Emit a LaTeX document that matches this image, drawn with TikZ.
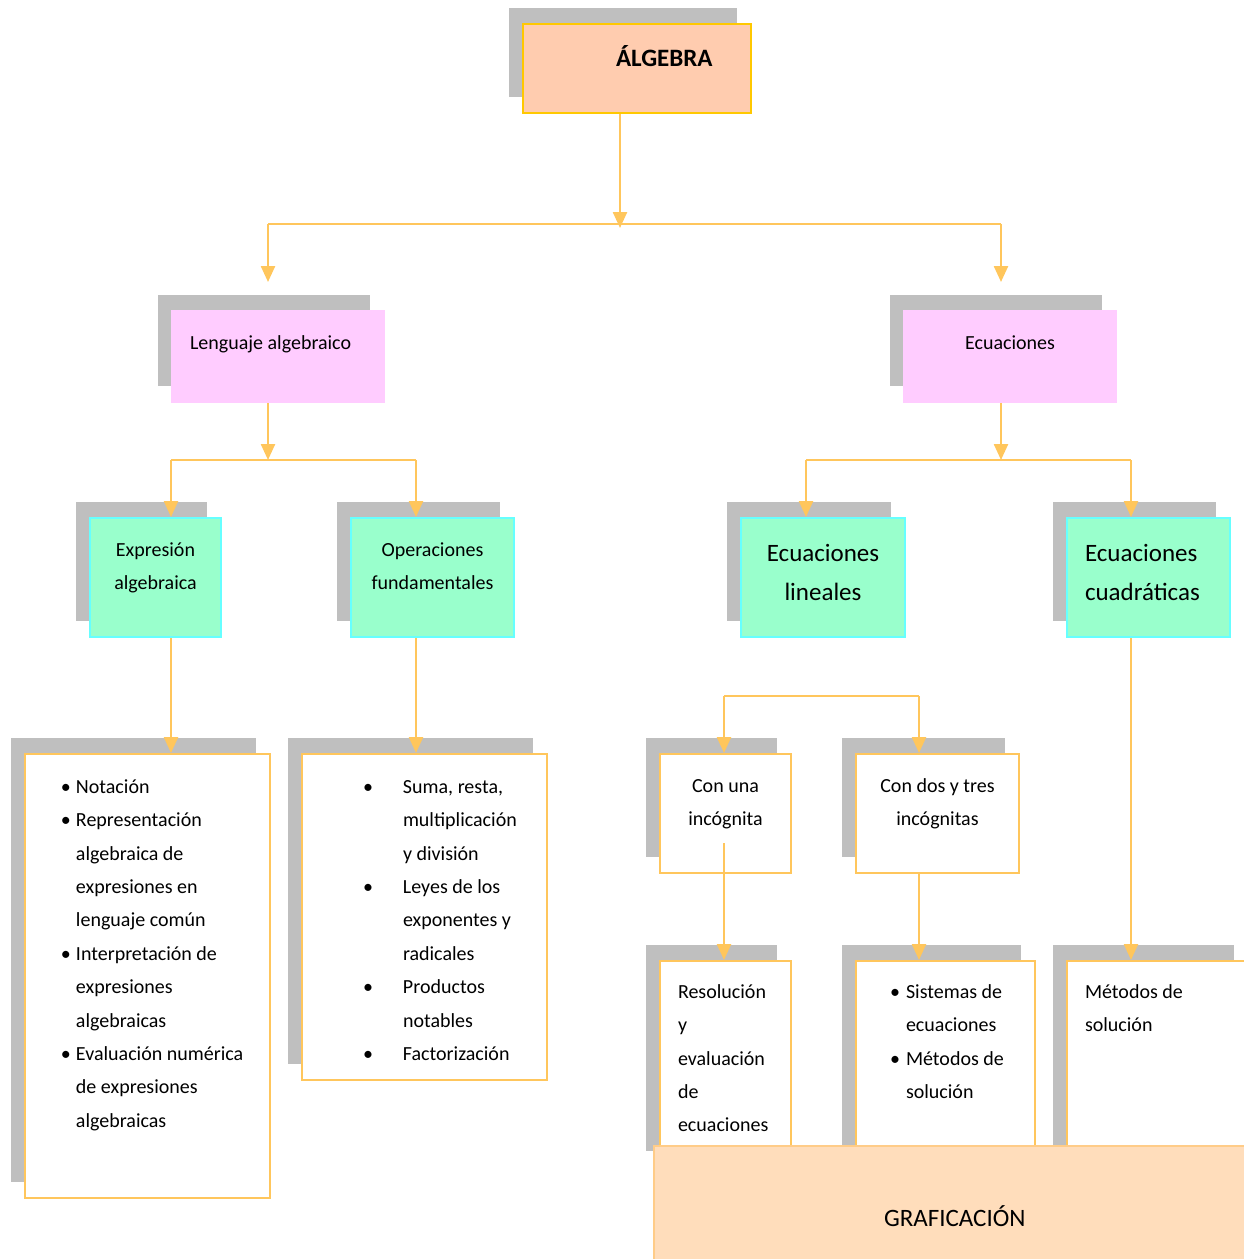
\documentclass[tikz,border=0pt]{standalone}
\usepackage{fontspec}
\setmainfont{Carlito}
\usetikzlibrary{arrows.meta,shadows}

\definecolor{shadowgray}{HTML}{BFBFBF}
\definecolor{peach}{HTML}{FFCCAF}
\definecolor{gold}{HTML}{FFC800}
\definecolor{lineorange}{HTML}{FFC65C}
\definecolor{pinkfill}{HTML}{FFCCFF}
\definecolor{mint}{HTML}{99FFCC}
\definecolor{cyanline}{HTML}{66FFFF}
\definecolor{graffill}{HTML}{FFDDBB}
\definecolor{grafline}{HTML}{FFCC88}

\newdimen\px \px=0.5pt
% box text: width, height, top pad (px), content
\newcommand{\bx}[4]{\parbox[c][#2\px][t]{#1\px}{\vspace*{#3\px}#4\par}}
\newcommand{\bul}[1]{\leavevmode\llap{\makebox[#1\px][l]{•}}}
\newcommand{\ind}[1]{\raggedright\leftskip=#1\px\relax}

\begin{document}
\begin{tikzpicture}[x=0.5pt, y=-0.5pt]
\tikzstyle{box} = [anchor=north west, inner sep=0pt, line width=1pt, font=\fontsize{10}{16.7}\selectfont]
\tikzstyle{big} = [font=\fontsize{12.5}{19.5}\selectfont]
\tikzstyle{shad} = [drop shadow={shadow xshift=-7pt, shadow yshift=8pt, fill=shadowgray, opacity=1}]
\tikzstyle{topbox} = [box, shad, fill=peach, draw=gold, font=\fontsize{12.5}{19.5}\selectfont\bfseries]
\tikzstyle{pinkbox} = [box, shad, fill=pinkfill, draw=pinkfill]
\tikzstyle{mintbox} = [box, shad, fill=mint, draw=cyanline]
\tikzstyle{wbox} = [box, shad, fill=white, draw=lineorange]
\tikzstyle{grafbox} = [box, big, fill=graffill, draw=grafline]
\tikzstyle{arr} = [-{Triangle[width=7pt, length=8pt]}, draw=lineorange, line width=1.2pt]
\tikzstyle{bar} = [draw=lineorange, line width=1.2pt]

\useasboundingbox (0,0) rectangle (1243,1259);

% top
\node[topbox] (algebra) at (522,23) {\bx{228}{89}{15}{\ind{93}\strut ÁLGEBRA}};

% second level
\node[pinkbox] (lenguaje) at (171,310) {\bx{212}{91}{15}{\ind{18}\strut Lenguaje algebraico}};
\node[pinkbox] (ecuaciones) at (903,310) {\bx{212}{91}{15}{\centering\strut Ecuaciones}};

% third level
\node[mintbox] (expresion) at (89,517) {\bx{131}{119}{15}{\centering\strut Expresión\\ algebraica}};
\node[mintbox] (operaciones) at (350,517) {\bx{163}{119}{15}{\centering\strut Operaciones\\ fundamentales}};
\node[mintbox, big] (lineales) at (740,517) {\bx{164}{119}{16}{\centering\strut Ecuaciones\\ lineales}};
\node[mintbox, big] (cuadraticas) at (1066,517) {\bx{163}{119}{16}{\ind{18}\strut Ecuaciones\\ cuadráticas}};

% lists
\node[wbox] (notacion) at (24,753) {\bx{245}{444}{16}{\ind{51}\bul{15}\strut Notación\\
  \bul{15}Representación\\ algebraica de\\ expresiones en\\ lenguaje común\\
  \bul{15}Interpretación de\\ expresiones\\ algebraicas\\
  \bul{15}Evaluación numérica\\ de expresiones\\ algebraicas}};
\node[wbox] (suma) at (301,753) {\bx{245}{326}{16}{\ind{101}\bul{40}\strut Suma, resta,\\ multiplicación\\ y división\\
  \bul{40}Leyes de los\\ exponentes y\\ radicales\\
  \bul{40}Productos\\ notables\\
  \bul{40}Factorización}};
\node[wbox] (conuna) at (659,753) {\bx{131}{119}{15}{\centering\strut Con una\\ incógnita}};
\node[wbox] (condos) at (855,753) {\bx{163}{119}{15}{\centering\strut Con dos y tres\\ incógnitas}};

% bottom row
\node[wbox] (resolucion) at (659,960) {\bx{131}{206}{14}{\ind{18}\strut Resolución\\ y\\ evaluación\\ de\\ ecuaciones}};
\node[wbox] (sistemas) at (855,960) {\bx{179}{200}{14}{\ind{50}\bul{16}\strut Sistemas de\\ ecuaciones\\
  \bul{16}Métodos de\\ solución}};
\node[wbox] (metodos) at (1066,960) {\bx{181}{200}{14}{\ind{18}\strut Métodos de\\ solución}};

% junctions
\coordinate (j1) at (620,228);
\coordinate (b1l) at (268,224);
\coordinate (b1r) at (1001,224);
\coordinate (t1l) at (268,282);
\coordinate (t1r) at (1001,282);
\coordinate (j2) at (268,460);
\coordinate (b2l) at (171,460);
\coordinate (b2r) at (416,460);
\coordinate (j3) at (1001,460);
\coordinate (b3l) at (806,460);
\coordinate (b3r) at (1131,460);
\coordinate (b4l) at (724,696);
\coordinate (b4r) at (919,696);
\coordinate (s5) at (724,843);

\draw[arr] (algebra.south -| j1) -- (j1);
\draw[bar] (b1l) -- (b1r);
\draw[arr] (b1l) -- (t1l);
\draw[arr] (b1r) -- (t1r);

\draw[arr] (lenguaje.south -| j2) -- (j2);
\draw[bar] (b2l) -- (b2r);
\draw[arr] (b2l) -- (expresion.north -| b2l);
\draw[arr] (b2r) -- (operaciones.north -| b2r);

\draw[arr] (ecuaciones.south -| j3) -- (j3);
\draw[bar] (b3l) -- (b3r);
\draw[arr] (b3l) -- (lineales.north -| b3l);
\draw[arr] (b3r) -- (cuadraticas.north -| b3r);

\draw[arr] (expresion.south -| b2l) -- (notacion.north -| b2l);
\draw[arr] (operaciones.south -| b2r) -- (suma.north -| b2r);

\draw[bar] (b4l) -- (b4r);
\draw[arr] (b4l) -- (conuna.north -| b4l);
\draw[arr] (b4r) -- (condos.north -| b4r);

\draw[arr] (s5) -- (resolucion.north -| s5);
\draw[arr] (condos.south -| b4r) -- (sistemas.north -| b4r);
\draw[arr] (cuadraticas.south -| b3r) -- (metodos.north -| b3r);

% graficacion
\node[grafbox] (graf) at (653,1145) {\bx{610}{130}{53}{\ind{230}\strut GRAFICACIÓN}};
\end{tikzpicture}
\end{document}
